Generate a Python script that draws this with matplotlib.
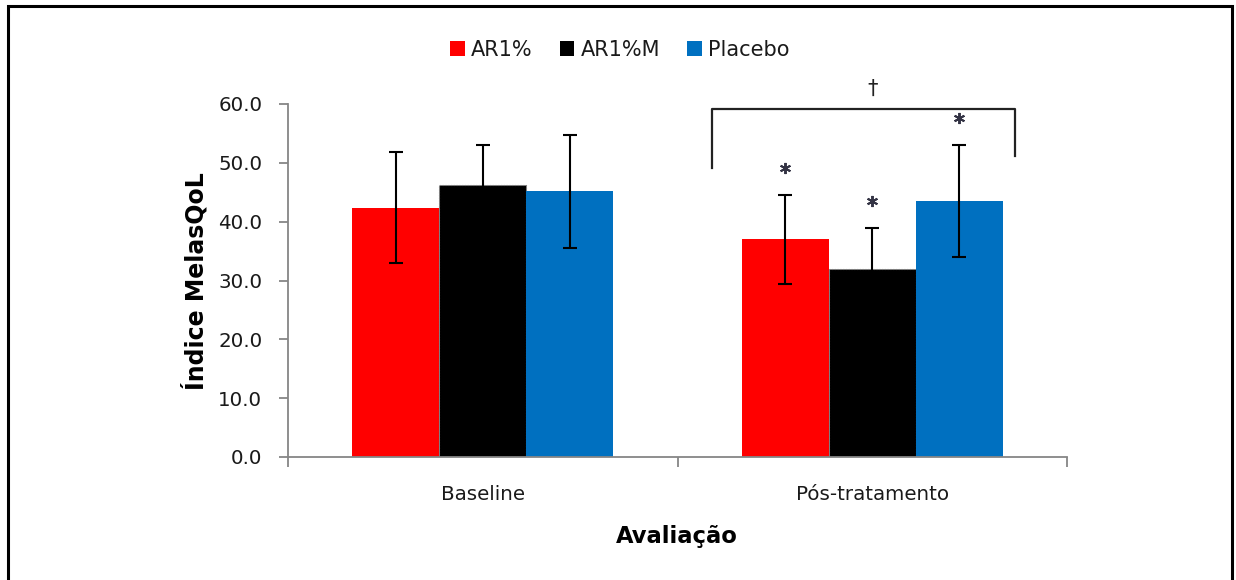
import matplotlib
matplotlib.use("Agg")
import matplotlib.pyplot as plt
from matplotlib.patches import Rectangle, Patch
import numpy as np

# Data
categories = ["Baseline", "Pós-tratamento"]
groups = ["AR1%", "AR1%M", "Placebo"]
means = {
    "AR1%": [42.4, 37.0],
    "AR1%M": [46.2, 31.9],
    "Placebo": [45.2, 43.5],
}
errors = {
    "AR1%": [9.5, 7.6],
    "AR1%M": [6.8, 7.0],
    "Placebo": [9.6, 9.5],
}
colors = {"AR1%": "#FF0000", "AR1%M": "#000000", "Placebo": "#0070C0"}
yticks = [0, 10, 20, 30, 40, 50, 60]

plt.rcParams["font.family"] = ["DejaVu Sans"]

W, H = 1236, 580
fig = plt.figure(figsize=(W / 100, H / 100), dpi=100)
ax = fig.add_axes([288 / W, 1 - 457 / H, (1067 - 288) / W, (457 - 104) / H])

x = np.arange(len(categories))
bw = 0.2233
offsets = [-bw, 0, bw]
axis_grey = "#868686"
text_col = "#1a1a1a"

for g, off in zip(groups, offsets):
    if g == "AR1%M":
        kw = dict(edgecolor="#7f7f7f", linestyle=(0, (1, 1.5)), linewidth=0.8)
    else:
        kw = dict(linewidth=0)
    ax.bar(x + off, means[g], width=bw, color=colors[g], zorder=2, **kw)
    ax.errorbar(x + off, means[g], yerr=errors[g], fmt="none", ecolor="black",
                elinewidth=1.5, capsize=5, capthick=1.5, zorder=3)

# Significance marks over the post-treatment group
for g, off in zip(groups, offsets):
    top = means[g][1] + errors[g][1]
    ax.plot(1 + off, top + 4.6, marker=(6, 2, 0), markersize=8,
            markeredgewidth=1.4, color="#333344", zorder=4)

bx0, bx1 = 0.589, 1.366
ax.plot([bx0, bx0, bx1, bx1], [49.1, 59.1, 59.1, 51.1], color="#222222",
        lw=1.6, clip_on=False, zorder=4)
ax.text(1.0, 62.6, "†", ha="center", va="center", fontsize=15,
        color="#222222", clip_on=False)

ax.set_xlim(-0.5, 1.5)
ax.set_ylim(0, 60)
ax.set_yticks(yticks)
ax.set_yticklabels([f"{v:.1f}" for v in yticks], fontsize=14.3, color=text_col)
ax.set_xticks([-0.5, 0.5, 1.5])
ax.set_xticklabels([])
ax.set_xticks(x, minor=True)
ax.set_xticklabels(categories, minor=True, fontsize=14.3, color=text_col)
ax.tick_params(axis="x", which="minor", length=0, pad=20)
ax.tick_params(axis="x", which="major", length=7, width=1.3, color=axis_grey, direction="out")
ax.tick_params(axis="y", length=6.5, width=1.3, color=axis_grey, direction="out", pad=12)

for s in ["top", "right"]:
    ax.spines[s].set_visible(False)
for s in ["left", "bottom"]:
    ax.spines[s].set_color(axis_grey)
    ax.spines[s].set_linewidth(1.3)

fig.text(195 / W, 1 - 281 / H, "Índice MelasQoL", rotation=90, ha="center",
         va="center", fontsize=17, fontweight="bold", color="black")
fig.text(677 / W, 1 - 543 / H, "Avaliação", ha="center", va="baseline",
         fontsize=16.3, fontweight="bold", color="black")

handles = [Patch(facecolor=colors[g], edgecolor="none") for g in groups]
fig.legend(handles, groups, loc="center", bbox_to_anchor=(620 / W, 1 - 50 / H),
           ncol=3, frameon=False, fontsize=15, handlelength=0.7, handleheight=0.7,
           handletextpad=0.3, columnspacing=1.3, labelcolor=text_col)

# Frame around the figure
fig.patches.append(Rectangle((8 / W, -0.05), (1232 - 8) / W, 1.05 - 6 / H,
                             transform=fig.transFigure, fill=False,
                             edgecolor="black", linewidth=2.2))

fig.savefig("out.png", dpi=100)
